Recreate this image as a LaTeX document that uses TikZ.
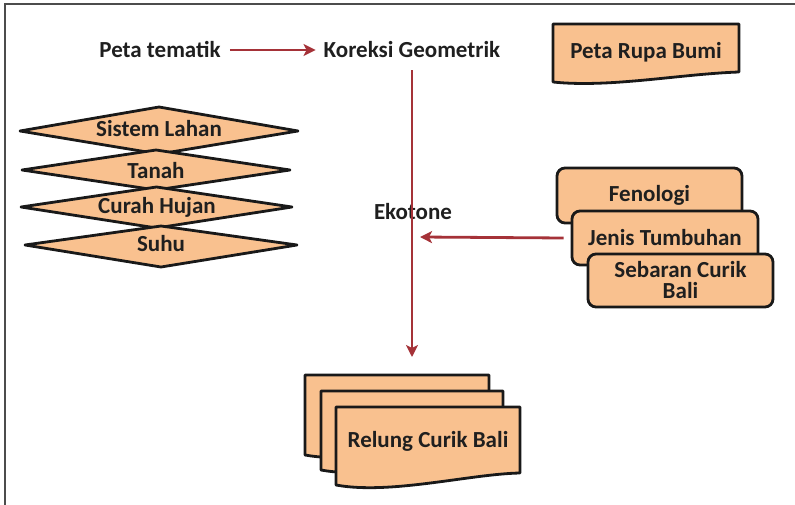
\documentclass[tikz,border=0pt]{standalone}
\usepackage{fontspec}
\setmainfont{Carlito}
\usetikzlibrary{arrows.meta}
\definecolor{peach}{RGB}{249,193,143}
\definecolor{darr}{RGB}{165,50,56}
\begin{document}
\begin{tikzpicture}[x=1pt,y=-1pt,
  txt/.style={font=\bfseries\fontsize{23}{22}\selectfont, text=black!88, inner sep=0pt},
  shp/.style={draw=black!90, line width=2.8pt, fill=peach, line join=round},
  boxnode/.style={shp, txt, rounded corners=8pt, minimum width=185pt, minimum height=55pt, align=center},
  con/.style={draw=darr, line width=2.8pt, -{Stealth[length=12pt,width=12pt,inset=3pt]}}
]
\useasboundingbox (0,0) rectangle (795,505);
\draw[line width=2pt, black!70] (5,505) -- (5,4) -- (795,4);

% top row
\node[txt] (peta) at (160,50) {Peta tematik};
\node[txt] (koreksi) at (412,50) {Koreksi Geometrik};
\draw[con, shorten <=9pt, shorten >=8pt] (peta) -- (koreksi);

% Peta Rupa Bumi document
\draw[shp] (553,24) -- (739,24) -- (739,72) .. controls (680,74) and (610,88) .. (553,82) -- cycle;
\node[txt] (rupa) at (646,52) {Peta Rupa Bumi};

% diamonds
\draw[shp] (20,131) -- (159,107) -- (298,131) -- (159,154) -- cycle;
\node[txt] (sistem) at (159,129) {Sistem Lahan};
\draw[shp] (22,170) -- (156,150) -- (290,170) -- (156,190) -- cycle;
\node[txt] (tanah) at (156,171) {Tanah};
\draw[shp] (21,207) -- (156.5,187) -- (292,207) -- (156.5,228) -- cycle;
\node[txt] (curah) at (157,207) {Curah Hujan};
\draw[shp] (25,245) -- (161,226) -- (297,245) -- (161,267) -- cycle;
\node[txt] (suhu) at (161,244) {Suhu};

% rounded boxes
\node[boxnode] (fenologi) at (649.5,195.5) {Fenologi};
\node[boxnode, minimum width=186pt, minimum height=54pt] (jenis) at (665,238) {Jenis Tumbuhan};
\node[boxnode, minimum height=53pt] (sebaran) at (680.5,280.5) {Sebaran Curik\\[-1pt]Bali};

% Ekotone
\node[txt] (ekotone) at (413,212) {Ekotone};

% multi document
\draw[shp] (305,375) -- (489,375) -- (489,443) .. controls (440,444) and (360,465) .. (305,455) -- cycle;
\draw[shp] (321,391) -- (503,391) -- (503,458) .. controls (455,459) and (375,480) .. (321,470) -- cycle;
\draw[shp] (336,407) -- (520,407) -- (520,473) .. controls (470,474) and (390,495) .. (336,485) -- cycle;
\node[txt] (relung) at (428,441) {Relung Curik Bali};

% connectors
\coordinate (vend) at (412,357);
\coordinate (hend) at (420,237);
\draw[con, shorten <=12pt] (koreksi.south) -- (vend);
\draw[con] ([xshift=-7pt]jenis.west) -- (hend);
\end{tikzpicture}
\end{document}
